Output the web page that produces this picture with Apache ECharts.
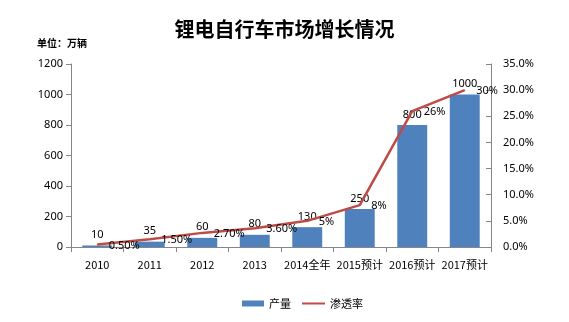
<!DOCTYPE html>
<html><head><meta charset="utf-8">
<script src="https://cdn.jsdelivr.net/npm/echarts@6/dist/echarts.min.js"></script>
<style>html,body{margin:0;padding:0;background:#fff}#c{width:569px;height:322px}</style>
</head><body><div id="c"></div>
<script>
const categories = ['2010','2011','2012','2013','2014全年','2015预计','2016预计','2017预计'];
const output = [10, 35, 60, 80, 130, 250, 800, 1000];
const penetration = [0.5, 1.5, 2.7, 3.6, 5, 8, 26, 30];
const penetrationLabels = ['0.50%','1.50%','2.70%','3.60%','5%','8%','26%','30%'];
const leftTicks = [0, 200, 400, 600, 800, 1000, 1200];
const rightTicks = ['0.0%','5.0%','10.0%','15.0%','20.0%','25.0%','30.0%','35.0%'];

const chart = echarts.init(document.getElementById('c'));
const axisColor = '#868686';
const font = 'Noto Sans, DejaVu Sans, sans-serif';
const legendText = {fontSize: 11, color: '#000', fontFamily: 'Noto Sans CJK SC'};
chart.setOption({
  animation: false,
  title: [{
    text: '锂电自行车市场增长情况', left: 'center', top: 14,
    textStyle: {fontSize: 20, fontWeight: 'bold', color: '#000', fontFamily: 'Noto Sans CJK SC'}
  }, {
    text: '单位：万辆', left: 32, top: 33,
    textStyle: {fontSize: 10, fontWeight: 'bold', color: '#000', fontFamily: 'Noto Sans CJK SC'}
  }],
  legend: [{
    bottom: 8, left: 237, itemWidth: 22, itemHeight: 6, itemGap: 4,
    textStyle: legendText,
    data: [{name: '产量', icon: 'rect'}]
  }, {
    bottom: 8, left: 297, itemWidth: 23, itemHeight: 2,
    textStyle: legendText,
    data: [{name: '渗透率', icon: 'rect'}]
  }],
  grid: {left: 71, right: 78, top: 64, bottom: 75},
  xAxis: {
    type: 'category', data: categories,
    axisLine: {lineStyle: {color: axisColor}},
    axisTick: {show: true, alignWithLabel: false, lineStyle: {color: axisColor}},
    axisLabel: {color: '#000', fontSize: 11, margin: 12, fontFamily: 'Noto Sans CJK SC', interval: 0}
  },
  yAxis: [{
    type: 'value', min: leftTicks[0], max: leftTicks[leftTicks.length - 1], interval: 200,
    axisLine: {show: true, lineStyle: {color: axisColor}},
    axisTick: {show: true, lineStyle: {color: axisColor}},
    splitLine: {show: false},
    axisLabel: {color: '#000', fontSize: 11, margin: 8, fontFamily: font, formatter: (v) => String(v)}
  }, {
    type: 'value', min: 0, max: 35, interval: 5,
    axisLine: {show: true, lineStyle: {color: axisColor}},
    axisTick: {show: true, inside: true, lineStyle: {color: axisColor}},
    splitLine: {show: false},
    axisLabel: {color: '#000', fontSize: 11, margin: 12, fontFamily: font,
      formatter: (v) => rightTicks[Math.round(v / 5)]}
  }],
  series: [{
    name: '产量', type: 'bar', data: output, barWidth: '57%',
    itemStyle: {color: '#4F81BD'},
    label: {show: true, position: 'top', distance: 5, color: '#000', fontSize: 11, fontFamily: font}
  }, {
    name: '渗透率', type: 'line', yAxisIndex: 1, data: penetration,
    symbol: 'circle', symbolSize: 1, showSymbol: true,
    lineStyle: {color: '#BE4B48', width: 2.5}, itemStyle: {color: '#BE4B48'},
    label: {show: true, position: 'right', distance: 11, offset: [0, 1], color: '#000', fontSize: 11, fontFamily: font,
      formatter: (p) => penetrationLabels[p.dataIndex]}
  }]
});
</script></body></html>
